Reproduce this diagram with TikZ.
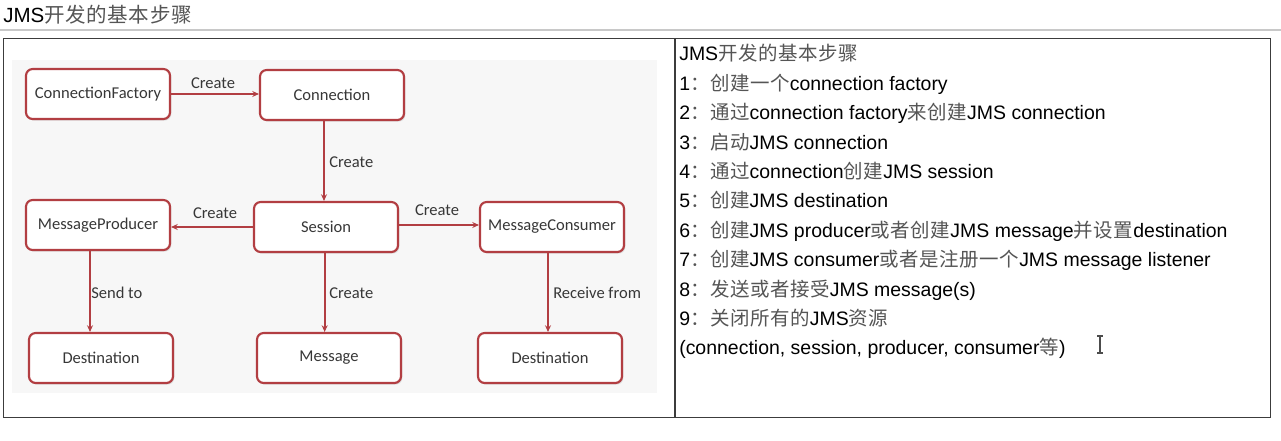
\documentclass[tikz,border=0pt]{standalone}
\usepackage{fontspec}
\setmainfont{Liberation Sans}
\newfontfamily\cjk[LetterSpace=3]{Noto Sans CJK SC}
\newfontfamily\diafont{Carlito}
\usetikzlibrary{arrows.meta,shadows}
\definecolor{boxred}{RGB}{178,62,66}
\definecolor{diatext}{RGB}{55,55,55}
\definecolor{cjkgray}{RGB}{85,85,85}
\definecolor{rulegray}{RGB}{200,200,200}
\definecolor{tablegray}{RGB}{60,60,60}
\newcommand{\zh}[1]{{\cjk\color{cjkgray}#1}}
\tikzset{
  jbox/.style={draw=boxred, line width=1.6pt, rounded corners=5pt, fill=white,
    minimum width=108pt, minimum height=37.5pt, inner sep=0pt,
    font=\diafont\fontsize{12.4}{14}\selectfont, text=diatext,
    drop shadow={opacity=0.22, shadow xshift=1pt, shadow yshift=-1.2pt}},
  jarr/.style={draw=boxred, line width=1.3pt, -{Stealth[length=5pt,width=4.5pt]}},
  jlab/.style={font=\diafont\fontsize{12.4}{14}\selectfont, text=diatext, inner sep=0pt},
  stepline/.style={anchor=base west, inner sep=0pt, font=\fontsize{14.6}{17}\selectfont}
}
\begin{document}
\begin{tikzpicture}[x=0.75pt,y=-0.75pt]
\useasboundingbox (0,0) rectangle (1281,440);
\fill[white] (0,0) rectangle (1281,440);
% title and rule
\node[stepline, font=\fontsize{15.4}{18}\selectfont] (title) at (3,22) {JMS\zh{开发的基本步骤}};
\draw[rulegray, line width=1.2pt] (0,30) -- (1281,30);
% table
\draw[tablegray, line width=0.9pt] (3.5,38.5) rectangle (1270.5,417.5);
\draw[tablegray, line width=0.9pt] (675,38.5) -- (675,417.5);
% diagram background
\fill[black!3] (12,60) rectangle (657,393);
% boxes
\node[jbox] (cf) at (98,94) {ConnectionFactory};
\node[jbox] (conn) at (332,95) {Connection};
\node[jbox] (sess) at (326,227) {Session};
\node[jbox] (prod) at (98,225) {MessageProducer};
\node[jbox] (cons) at (552,227) {MessageConsumer};
\node[jbox] (dest1) at (101,358) {Destination};
\node[jbox] (msg) at (329,358) {Message};
\node[jbox] (dest2) at (550,358) {Destination};
% connectors
\draw[jarr] (cf.east) -- (cf.east -| conn.west);
\draw[jarr] ([xshift=-1.5pt]sess.north |- conn.south) -- ([xshift=-1.5pt]sess.north);
\draw[jarr] (sess.west) -- (sess.west -| prod.east);
\draw[jarr] ([yshift=1.5pt]sess.east) -- ([yshift=1.5pt]sess.east -| cons.west);
\coordinate (pdx) at (90,0);
\draw[jarr] (prod.south -| pdx) -- (dest1.north -| pdx);
\draw[jarr] ([xshift=-1pt]sess.south) -- ([xshift=-1pt]sess.south |- msg.north);
\draw[jarr] ([xshift=-3pt]cons.south) -- ([xshift=-3pt]cons.south |- dest2.north);
% labels
\node[jlab] (l1) at (213,83) {Create};
\node[jlab, anchor=west] (l2) at (329,162) {Create};
\node[jlab] (l3) at (215,213) {Create};
\node[jlab] (l4) at (437,210) {Create};
\node[jlab, anchor=west] (l5) at (91,293) {Send to};
\node[jlab, anchor=west] (l6) at (329,293) {Create};
\node[jlab, anchor=west] (l7) at (553,293) {Receive from};
% steps
\node[stepline] (s0) at (679,60) {JMS\zh{开发的基本步骤}};
\node[stepline] (s1) at (679,90) {1\zh{：创建一个}connection factory};
\node[stepline] (s2) at (679,119) {2\zh{：通过}connection factory\zh{来创建}JMS connection};
\node[stepline] (s3) at (679,149) {3\zh{：启动}JMS connection};
\node[stepline] (s4) at (679,178) {4\zh{：通过}connection\zh{创建}JMS session};
\node[stepline] (s5) at (679,207) {5\zh{：创建}JMS destination};
\node[stepline] (s6) at (679,237) {6\zh{：创建}JMS producer\zh{或者创建}JMS message\zh{并设置}destination};
\node[stepline] (s7) at (679,266) {7\zh{：创建}JMS consumer\zh{或者是注册一个}JMS message listener};
\node[stepline] (s8) at (679,296) {8\zh{：发送或者接受}JMS message(s)};
\node[stepline] (s9) at (679,325) {9\zh{：关闭所有的}JMS\zh{资源}};
\node[stepline] (s10) at (679,354) {(connection, session, producer, consumer\zh{等})};
% text cursor
\draw[black!70, line width=0.9pt] (1100,336) -- (1100,353)
  (1097,336) -- (1103,336) (1097,353) -- (1103,353);
\end{tikzpicture}
\end{document}
